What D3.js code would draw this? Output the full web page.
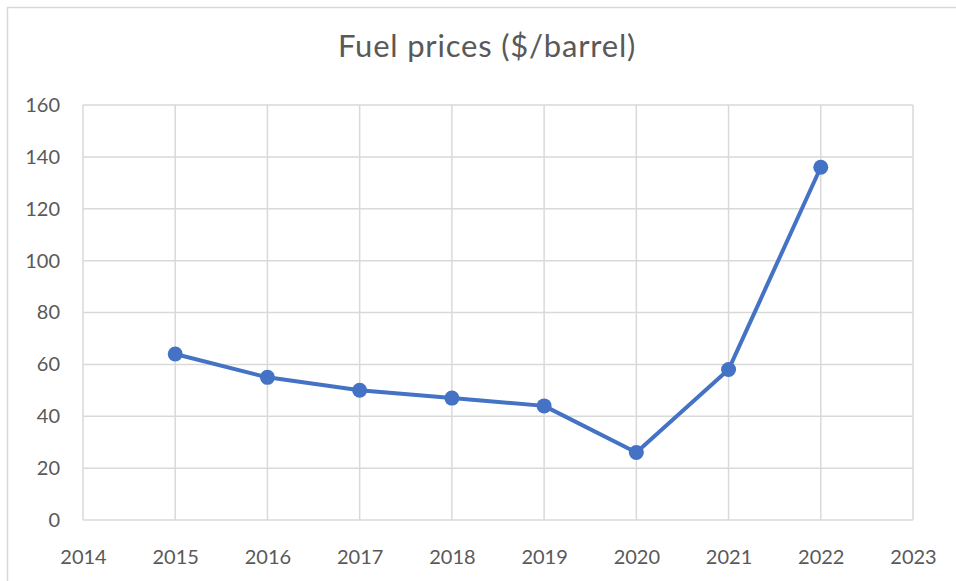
<!DOCTYPE html>
<html>
<head>
<meta charset="utf-8">
<script src="https://d3js.org/d3.v7.min.js"></script>
<style>
  body { margin: 0; background: #fff; }
  svg text { font-family: Lato, "Open Sans", sans-serif; fill: #595959; }
</style>
</head>
<body>
<div id="chart"></div>
<script>
// data
const years = [2015, 2016, 2017, 2018, 2019, 2020, 2021, 2022];
const prices = [64, 55, 50, 47, 44, 26, 58, 136];
const xTicks = [2014, 2015, 2016, 2017, 2018, 2019, 2020, 2021, 2022, 2023];
const yTicks = [0, 20, 40, 60, 80, 100, 120, 140, 160];

const w = 956, h = 581;

const svg = d3.select('#chart').append('svg')
  .attr('width', w)
  .attr('height', h);

// chart frame
svg.append('rect')
  .attr('x', 7.5).attr('y', 7.5)
  .attr('width', 1000).attr('height', 1000)
  .attr('fill', 'none')
  .attr('stroke', '#d9d9d9')
  .attr('stroke-width', 1.5);

svg.append('text')
  .attr('x', 487)
  .attr('y', 57)
  .attr('text-anchor', 'middle')
  .style('font-size', '31px')
  .style('letter-spacing', '0.8px')
  .text('Fuel prices ($/barrel)');

const x = d3.scaleLinear().domain([2014, 2023]).range([83, 913]);
const y = d3.scaleLinear().domain([0, 160]).range([520, 105]);

// gridlines
svg.append('g')
  .selectAll('line')
  .data(yTicks)
  .enter().append('line')
  .attr('x1', x(2014)).attr('x2', x(2023))
  .attr('y1', d => y(d)).attr('y2', d => y(d))
  .attr('stroke', '#d9d9d9')
  .attr('stroke-width', 1.5);

svg.append('g')
  .selectAll('line')
  .data(xTicks)
  .enter().append('line')
  .attr('x1', d => x(d)).attr('x2', d => x(d))
  .attr('y1', y(0)).attr('y2', y(160))
  .attr('stroke', '#d9d9d9')
  .attr('stroke-width', 1.5);

// axes (labels only)
const xAxis = d3.axisBottom(x).tickValues(xTicks).tickFormat(d3.format('d')).tickSize(0).tickPadding(30);
const gx = svg.append('g')
  .attr('transform', 'translate(0,' + y(0) + ')')
  .call(xAxis);
gx.select('.domain').remove();
gx.selectAll('text').style('font-size', '20px').attr('fill', '#595959');

const yAxis = d3.axisLeft(y).tickValues(yTicks).tickSize(0).tickPadding(23);
const gy = svg.append('g')
  .attr('transform', 'translate(' + x(2014) + ',0)')
  .call(yAxis);
gy.select('.domain').remove();
gy.selectAll('text').style('font-size', '20px').attr('fill', '#595959');

// series
const pts = years.map((d, i) => [d, prices[i]]);

svg.append('path')
  .datum(pts)
  .attr('fill', 'none')
  .attr('stroke', '#4472c4')
  .attr('stroke-width', 4)
  .attr('stroke-linejoin', 'round')
  .attr('d', d3.line().x(d => x(d[0])).y(d => y(d[1])));

svg.append('g')
  .selectAll('circle')
  .data(pts)
  .enter().append('circle')
  .attr('cx', d => x(d[0]))
  .attr('cy', d => y(d[1]))
  .attr('r', 7.5)
  .attr('fill', '#4472c4');
</script>
</body>
</html>
